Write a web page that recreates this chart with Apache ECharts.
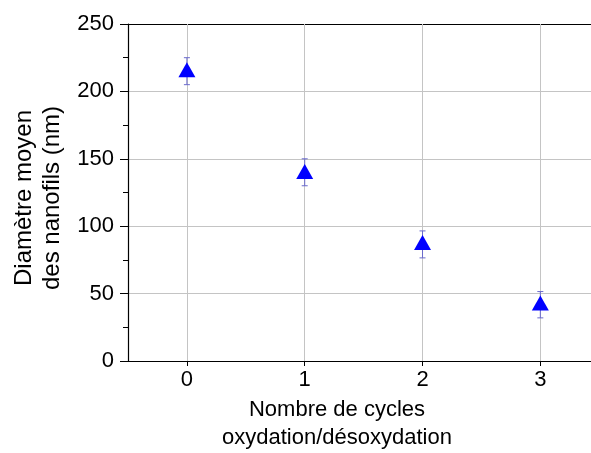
<!DOCTYPE html>
<html>
<head>
<meta charset="utf-8">
<script src="https://cdn.jsdelivr.net/npm/echarts@6/dist/echarts.min.js"></script>
<style>html,body{margin:0;padding:0;background:#fff}#c{width:591px;height:453px}</style>
</head>
<body>
<div id="c"></div>
<script>
var cycles = [0, 1, 2, 3];
var diameters = [216, 140.5, 88, 43];
var errLow = [205, 130, 76.5, 32];
var errHigh = [225, 150, 96.5, 51.5];
var yTicks = [0, 50, 100, 150, 200, 250];
var xTitle = ['Nombre de cycles', 'oxydation/désoxydation'];
var yTitle = ['Diamètre moyen', 'des nanofils (nm)'];

var FONT = 'Liberation Sans, Arial, sans-serif';
var chart = echarts.init(document.getElementById('c'), null, {renderer: 'canvas'});

var pts = cycles.map(function (c, i) { return [c, diameters[i]]; });
var errs = cycles.map(function (c, i) { return [c, errLow[i], errHigh[i]]; });

chart.setOption({
  animation: false,
  backgroundColor: '#fff',
  grid: {left: 128, top: 24, right: 0, bottom: 92, show: false},
  xAxis: [{
    type: 'value', min: -0.5, max: 3.43,
    axisLine: {show: true, onZero: false, lineStyle: {color: '#000', width: 1.2}},
    axisTick: {show: true, length: 5, lineStyle: {color: '#000'}, customValues: cycles},
    axisLabel: {color: '#000', fontSize: 22, fontFamily: FONT, margin: 8, customValues: cycles},
    splitLine: {show: false}
  }, {
    type: 'value', position: 'top', min: -0.5, max: 3.43,
    axisLine: {show: true, onZero: false, lineStyle: {color: '#000', width: 1.2}},
    axisTick: {show: false}, axisLabel: {show: false}, splitLine: {show: false}
  }],
  yAxis: {
    type: 'value', min: yTicks[0], max: yTicks[yTicks.length - 1], interval: 50,
    axisLine: {show: true, onZero: false, lineStyle: {color: '#000', width: 1.2}},
    axisTick: {show: true, length: 8, lineStyle: {color: '#000'}},
    minorTick: {show: true, splitNumber: 2, length: 5, lineStyle: {color: '#000'}},
    axisLabel: {color: '#000', fontSize: 22, fontFamily: FONT, margin: 14},
    splitLine: {show: true, lineStyle: {color: '#c4c4c4', width: 1}}
  },
  graphic: [
    {type: 'text', x: 337, y: 410, style: {text: xTitle[0], font: '22px ' + FONT, fill: '#000', align: 'center', verticalAlign: 'middle'}},
    {type: 'text', x: 337, y: 438, style: {text: xTitle[1], font: '22px ' + FONT, fill: '#000', align: 'center', verticalAlign: 'middle'}},
    {type: 'text', x: 24, y: 198, rotation: Math.PI / 2, style: {text: yTitle[0], font: '24px ' + FONT, fill: '#000', align: 'center', verticalAlign: 'middle'}},
    {type: 'text', x: 52, y: 198, rotation: Math.PI / 2, style: {text: yTitle[1], font: '24px ' + FONT, fill: '#000', align: 'center', verticalAlign: 'middle'}}
  ],
  series: [
    {
      type: 'scatter', data: [], z: 1, silent: true,
      markLine: {
        silent: true, symbol: 'none', label: {show: false}, z: 1,
        lineStyle: {color: '#c4c4c4', type: 'solid', width: 1},
        data: cycles.map(function (c) { return {xAxis: c}; })
      }
    },
    {
      type: 'custom', z: 2, silent: true,
      data: errs,
      renderItem: function (params, api) {
        var x = api.value(0);
        var lo = api.coord([x, api.value(1)]);
        var hi = api.coord([x, api.value(2)]);
        var w = 3;
        var st = {stroke: '#6a6acc', lineWidth: 1};
        return {type: 'group', children: [
          {type: 'line', shape: {x1: lo[0], y1: lo[1], x2: hi[0], y2: hi[1]}, style: st},
          {type: 'line', shape: {x1: lo[0] - w, y1: lo[1], x2: lo[0] + w, y2: lo[1]}, style: st},
          {type: 'line', shape: {x1: hi[0] - w, y1: hi[1], x2: hi[0] + w, y2: hi[1]}, style: st}
        ]};
      }
    },
    {
      type: 'scatter', z: 10, data: pts, symbol: 'triangle', symbolSize: [17, 15],
      itemStyle: {color: '#0000ff', opacity: 1}
    }
  ]
});
</script>
</body>
</html>
